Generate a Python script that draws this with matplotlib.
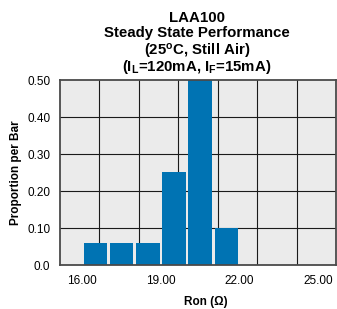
import numpy as np
import matplotlib
matplotlib.use("Agg")
import matplotlib.pyplot as plt

plt.rcParams["font.family"] = ["Liberation Sans", "DejaVu Sans"]
plt.rcParams["mathtext.fontset"] = "custom"
plt.rcParams["mathtext.rm"] = "Liberation Sans:bold"
plt.rcParams["mathtext.bf"] = "Liberation Sans:bold"
plt.rcParams["mathtext.it"] = "Liberation Sans:bold"

# histogram data
bin_left = np.array([16, 17, 18, 19, 20, 21])
proportion = np.array([0.06, 0.06, 0.06, 0.253, 0.50, 0.10])

x_ticks = [16, 19, 22, 25]
x_tick_labels = ["16.00", "19.00", "22.00", "25.00"]
y_ticks = [0.0, 0.1, 0.2, 0.3, 0.4, 0.5]
y_tick_labels = ["0.0", "0.10", "0.20", "0.30", "0.40", "0.50"]

title_lines = [
    "LAA100",
    "Steady State Performance",
    r"(25$^{\mathbf{o}}$C, Still Air)",
    r"(I$_{\mathbf{L}}$=120mA, I$_{\mathbf{F}}$=15mA)",
]

bar_color = "#0073b3"
face_color = "#ebebeb"

fig = plt.figure(figsize=(3.37, 3.09), dpi=100)
ax = fig.add_axes([0.178, 0.142, 0.819, 0.598])
ax.set_facecolor(face_color)

xmin, xmax = 15.15, 25.68
ax.set_xlim(xmin, xmax)
ax.set_ylim(0, 0.5)

#
# grid: 7 equal columns, rows at y ticks
#
for gx in np.linspace(xmin, xmax, 8)[1:-1]:
    ax.axvline(gx, color="#1a1a1a", linewidth=0.8, zorder=1)
for gy in y_ticks[1:-1]:
    ax.axhline(gy, color="#1a1a1a", linewidth=0.8, zorder=1)

ax.bar(
    bin_left + 0.05,
    proportion,
    width=0.9,
    align="edge",
    color=bar_color,
    zorder=2,
)

for spine in ax.spines.values():
    spine.set_color("#4a4a4a")
    spine.set_linewidth(1.3)

ax.set_xticks(x_ticks)
ax.set_xticklabels(x_tick_labels, fontsize=8.5)
ax.set_yticks(y_ticks)
ax.set_yticklabels(y_tick_labels, fontsize=8.5)
ax.tick_params(axis="both", length=0)
ax.tick_params(axis="x", pad=7)
ax.tick_params(axis="y", pad=7)

ax.set_ylabel("Proportion per Bar", fontsize=8.5, fontweight="bold", labelpad=4)
fig.text(0.61, 0.013, "Ron (\u03a9)", ha="center", va="baseline",
         fontsize=8.5, fontweight="bold")

# title lines placed one by one (mathtext spoils even line spacing)
baselines = [0.929, 0.879, 0.8195, 0.7715]
for line, yb in zip(title_lines, baselines):
    fig.text(0.585, yb, line, ha="center", va="baseline",
             fontsize=10.8, fontweight="bold")

fig.savefig("out.png", dpi=100)
plt.close(fig)
